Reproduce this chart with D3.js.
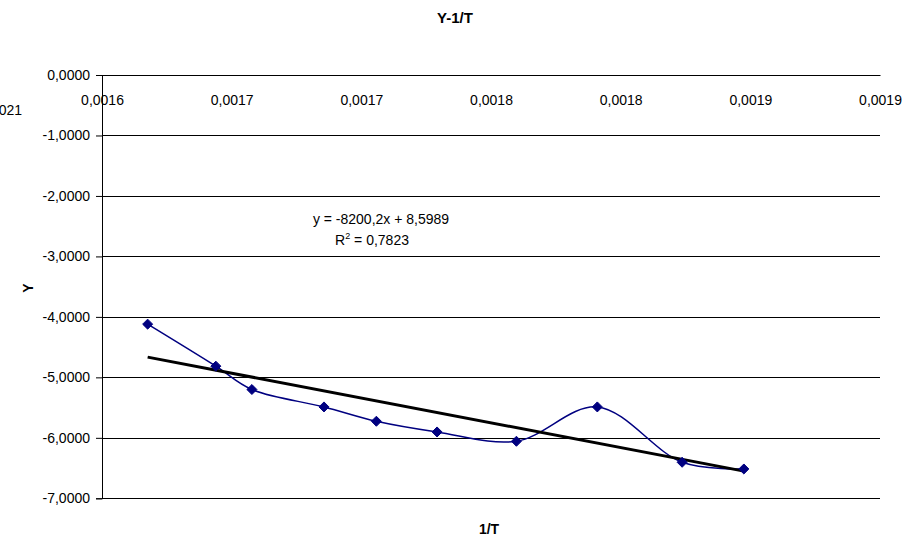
<!DOCTYPE html>
<html>
<head>
<meta charset="utf-8">
<script src="https://cdn.jsdelivr.net/npm/d3@7"></script>
<style>
  body { margin: 0; background: #fff; }
  text { font-family: "Liberation Sans", Arial, sans-serif; fill: #000; }
</style>
</head>
<body>
<div class="chart"></div>
<script>
// data
var invT = [0.0016176, 0.0016439, 0.0016578, 0.0016856, 0.0017058,
            0.0017292, 0.0017598, 0.0017910, 0.0018237, 0.0018475];
var yVals = [-4.120, -4.815, -5.201, -5.489, -5.726,
             -5.903, -6.057, -5.489, -6.404, -6.515];

var yTicks = [0, -1, -2, -3, -4, -5, -6, -7];
var yTickLabels = ["0,0000", "-1,0000", "-2,0000", "-3,0000", "-4,0000", "-5,0000", "-6,0000", "-7,0000"];
var xTicks = [0.0016, 0.00165, 0.0017, 0.00175, 0.0018, 0.00185, 0.0019];
var xTickLabels = ["0,0016", "0,0017", "0,0017", "0,0018", "0,0018", "0,0019", "0,0019"];

// linear trend shown on chart
var slope = -8200.2;
var intercept = 8.5989;
var eqText = "y = -8200,2x + 8,5989";
var r2Text = "0,7823";

var svgWidth = 919;
var svgHeight = 541;

var svg = d3.select(".chart")
  .append("svg")
  .attr("width", svgWidth)
  .attr("height", svgHeight);

var xScale = d3.scaleLinear()
  .domain([0.0016, 0.0019])
  .range([102, 880]);

var yScale = d3.scaleLinear()
  .domain([-7, 0])
  .range([498.3, 75]);

// horizontal gridlines
svg.append("g")
  .selectAll("line")
  .data(yTicks)
  .enter()
  .append("line")
  .attr("x1", xScale(0.0016))
  .attr("x2", xScale(0.0019))
  .attr("y1", d => Math.round(yScale(d)) + 0.5)
  .attr("y2", d => Math.round(yScale(d)) + 0.5)
  .attr("stroke", "#000")
  .attr("stroke-width", 1);

// y axis
var leftAxis = d3.axisLeft(yScale)
  .tickValues(yTicks)
  .tickSize(6)
  .tickPadding(6)
  .tickFormat((d, i) => yTickLabels[i]);

var yAxisG = svg.append("g")
  .attr("transform", `translate(${xScale(0.0016)}, 0)`)
  .call(leftAxis);
yAxisG.selectAll("path, line").attr("stroke", "#000");
yAxisG.selectAll("text")
  .style("font-size", "14px")
  .style("font-family", "'Liberation Sans', Arial, sans-serif");

// x axis sits at y = 0 with labels underneath
var topAxis = d3.axisBottom(xScale)
  .tickValues(xTicks)
  .tickSize(0)
  .tickPadding(20)
  .tickFormat((d, i) => xTickLabels[i]);

var xAxisG = svg.append("g")
  .attr("transform", `translate(0, ${yScale(0)})`)
  .call(topAxis);
xAxisG.select("path").attr("stroke", "#000");
xAxisG.selectAll("text")
  .style("font-size", "14px")
  .style("font-family", "'Liberation Sans', Arial, sans-serif");

// stray clipped label at the left edge (cut off in the original too)
svg.append("text")
  .attr("x", 22)
  .attr("y", 115)
  .attr("text-anchor", "end")
  .style("font-size", "14px")
  .text("0,0021");

// smoothed data line
var pts = invT.map((x, i) => [x, yVals[i]]);
var line = d3.line()
  .x(d => xScale(d[0]))
  .y(d => yScale(d[1]))
  .curve(d3.curveCatmullRom.alpha(0.5));

svg.append("path")
  .datum(pts)
  .attr("d", line)
  .attr("fill", "none")
  .attr("stroke", "#000080")
  .attr("stroke-width", 1.5);

// trend line
var xMin = d3.min(invT), xMax = d3.max(invT);
svg.append("line")
  .attr("x1", xScale(xMin))
  .attr("y1", yScale(slope * xMin + intercept))
  .attr("x2", xScale(xMax))
  .attr("y2", yScale(slope * xMax + intercept))
  .attr("stroke", "#000")
  .attr("stroke-width", 3);

// diamond markers
var diamond = d3.symbol().type(d3.symbolDiamond2).size(64);
svg.append("g")
  .selectAll("path")
  .data(pts)
  .enter()
  .append("path")
  .attr("d", diamond)
  .attr("transform", d => `translate(${xScale(d[0])}, ${yScale(d[1])})`)
  .attr("fill", "#000080")
  .attr("stroke", "#000080")
  .attr("stroke-width", 1);

// equation labels
svg.append("text")
  .attr("x", 381)
  .attr("y", 224)
  .attr("text-anchor", "middle")
  .style("font-size", "14px")
  .text(eqText);

var r2 = svg.append("text")
  .attr("x", 372)
  .attr("y", 245)
  .attr("text-anchor", "middle")
  .style("font-size", "14px");
r2.append("tspan").text("R");
r2.append("tspan").attr("dy", -6).style("font-size", "9px").text("2");
r2.append("tspan").attr("dy", 6).text(" = " + r2Text);

// titles
svg.append("text")
  .attr("x", 455)
  .attr("y", 23)
  .attr("text-anchor", "middle")
  .style("font-size", "15px")
  .style("font-weight", "bold")
  .text("Y-1/T");

svg.append("text")
  .attr("x", 489)
  .attr("y", 534)
  .attr("text-anchor", "middle")
  .style("font-size", "14px")
  .style("font-weight", "bold")
  .text("1/T");

svg.append("text")
  .attr("transform", "translate(33, 288) rotate(-90)")
  .attr("text-anchor", "middle")
  .style("font-size", "14px")
  .style("font-weight", "bold")
  .text("Y");
</script>
</body>
</html>
